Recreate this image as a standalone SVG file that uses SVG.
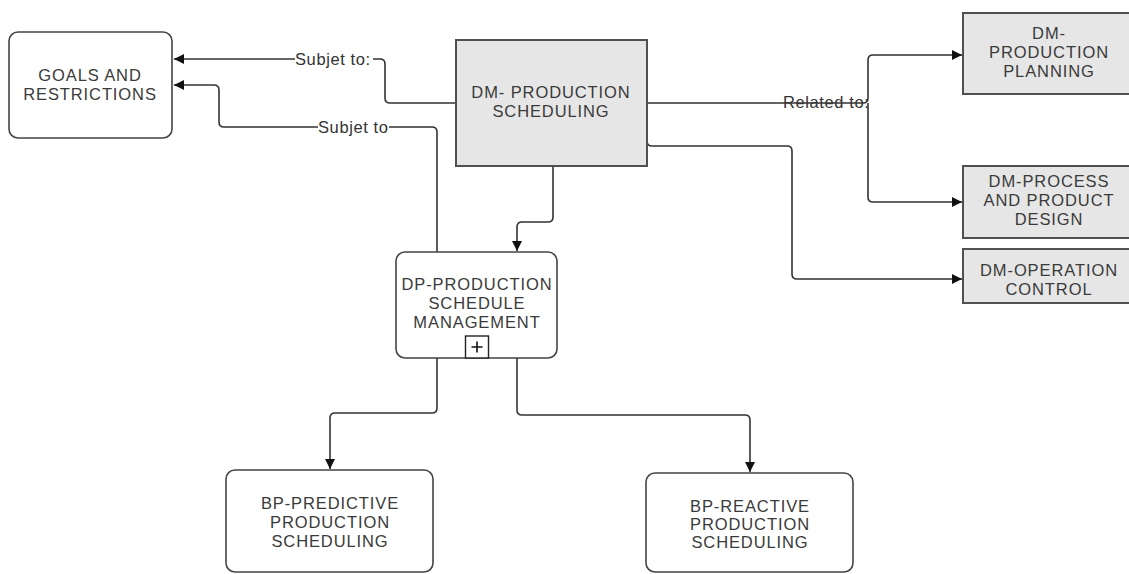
<svg xmlns="http://www.w3.org/2000/svg" width="1129" height="574" viewBox="0 0 1129 574">
<defs>
<marker id="arr" viewBox="0 0 10 10" refX="10" refY="5" markerWidth="11" markerHeight="10" markerUnits="userSpaceOnUse" orient="auto">
<path d="M0,0 L10,5 L0,10 z" fill="#111"/>
</marker>
<style>
.t{font-family:"Liberation Sans",Arial,sans-serif;font-size:16.5px;letter-spacing:0.9px;fill:#3a3a3a;text-anchor:middle}
.lbl{font-family:"Liberation Sans",Arial,sans-serif;font-size:16.5px;letter-spacing:0.6px;fill:#333}
.rb{fill:#fff;stroke:#444;stroke-width:1.6}
.gb{fill:#e6e6e6;stroke:#505050;stroke-width:2}
.c{fill:none;stroke:#333;stroke-width:1.6}
</style>
</defs>
<rect width="1129" height="574" fill="#fff"/>

<g id="connectors">
<path class="c" d="M456,103 H390 Q385,103 385,98 V64 Q385,59 380,59 H373" />
<path class="c" d="M295,59 H174" marker-end="url(#arr)"/>
<path class="c" d="M437,252 V132 Q437,127 432,127 H389" />
<path class="c" d="M318,127 H224 Q219,127 219,122 V90 Q219,85 214,85 H174" marker-end="url(#arr)"/>
<path class="c" d="M647,103 H863 Q868,103 868,98 V60 Q868,55 873,55 H962" marker-end="url(#arr)"/>
<path class="c" d="M868,103 V197 Q868,202 873,202 H962" marker-end="url(#arr)"/>
<path class="c" d="M647,130 V141 Q647,146 652,146 H787 Q792,146 792,151 V274 Q792,279 797,279 H962" marker-end="url(#arr)"/>
<path class="c" d="M553,166 V217 Q553,222 548,222 H522 Q517,222 517,227 V251" marker-end="url(#arr)"/>
<path class="c" d="M437,358 V408 Q437,413 432,413 H335 Q330,413 330,418 V469" marker-end="url(#arr)"/>
<path class="c" d="M517,358 V410 Q517,415 522,415 H745 Q750,415 750,420 V472" marker-end="url(#arr)"/>
<text class="lbl" x="295" y="64.5">Subjet to:</text>
<text class="lbl" x="318" y="132.5">Subjet to</text>
<text class="lbl" x="783" y="108">Related to:</text>
</g>

<g id="goals">
<rect class="rb" x="9" y="32" width="163" height="106" rx="9"/>
<text class="t"><tspan x="90" y="81">GOALS AND</tspan><tspan x="90" y="99.5">RESTRICTIONS</tspan></text>
</g>

<g id="dm-scheduling">
<rect class="gb" x="456" y="40" width="191" height="126"/>
<text class="t"><tspan x="551" y="98">DM- PRODUCTION</tspan><tspan x="551" y="117">SCHEDULING</tspan></text>
</g>

<g id="dm-planning">
<rect class="gb" x="963" y="13" width="175" height="81"/>
<text class="t"><tspan x="1049" y="39">DM-</tspan><tspan x="1049" y="58">PRODUCTION</tspan><tspan x="1049" y="77">PLANNING</tspan></text>
</g>

<g id="dm-process">
<rect class="gb" x="963" y="166" width="175" height="72"/>
<text class="t"><tspan x="1049" y="187">DM-PROCESS</tspan><tspan x="1049" y="206">AND PRODUCT</tspan><tspan x="1049" y="224.5">DESIGN</tspan></text>
</g>

<g id="dm-operation">
<rect class="gb" x="963" y="249" width="175" height="54"/>
<text class="t"><tspan x="1049" y="276">DM-OPERATION</tspan><tspan x="1049" y="294.5">CONTROL</tspan></text>
</g>

<g id="dp-management">
<rect class="rb" x="396" y="252" width="161" height="106" rx="9"/>
<text class="t"><tspan x="477" y="290">DP-PRODUCTION</tspan><tspan x="477" y="309">SCHEDULE</tspan><tspan x="477" y="328">MANAGEMENT</tspan></text>
<rect x="465.5" y="336" width="23" height="22" fill="#fff" stroke="#222" stroke-width="1.4"/>
<path d="M477,341.5 V352.5 M471.5,347 H482.5" stroke="#111" stroke-width="1.6"/>
</g>

<g id="bp-predictive">
<rect class="rb" x="226" y="470" width="207" height="102" rx="9"/>
<text class="t"><tspan x="330" y="509">BP-PREDICTIVE</tspan><tspan x="330" y="528">PRODUCTION</tspan><tspan x="330" y="547">SCHEDULING</tspan></text>
</g>

<g id="bp-reactive">
<rect class="rb" x="646" y="473" width="207" height="99" rx="9"/>
<text class="t"><tspan x="750" y="512">BP-REACTIVE</tspan><tspan x="750" y="530">PRODUCTION</tspan><tspan x="750" y="548">SCHEDULING</tspan></text>
</g>
</svg>
